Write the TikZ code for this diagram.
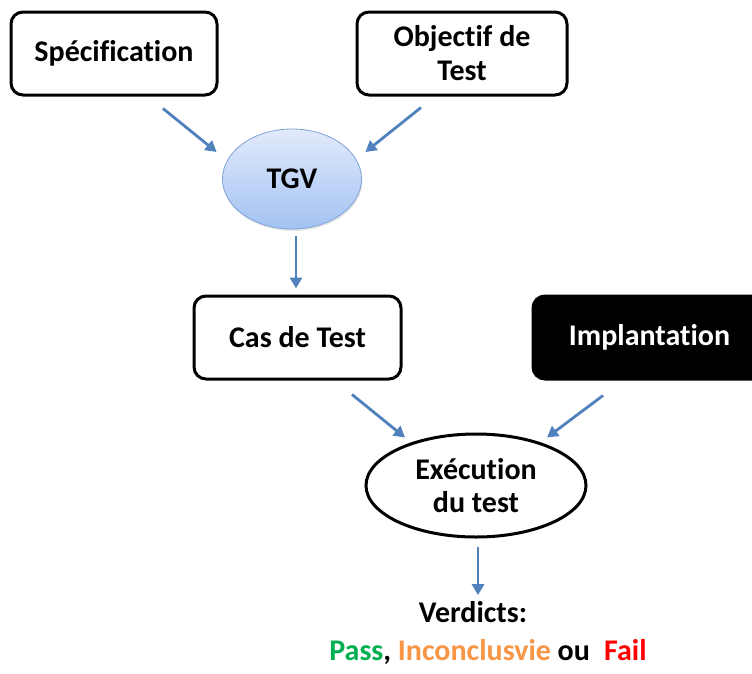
\documentclass[tikz,border=0pt]{standalone}
\usepackage{fontspec}
\setmainfont[Ligatures={NoCommon}]{Carlito}
\usetikzlibrary{arrows.meta,calc,shapes.geometric,shadows}
\definecolor{arrblue}{HTML}{4F81BD}
\definecolor{tgvtop}{HTML}{E2EAFB}
\definecolor{tgvbot}{HTML}{A3C2F2}
\definecolor{tgvline}{HTML}{7FA3D9}
\definecolor{passgreen}{HTML}{00B050}
\definecolor{incorange}{HTML}{F79646}
\definecolor{failred}{HTML}{FF0000}
\tikzset{
  lbl/.style={font=\fontsize{30}{34}\selectfont\bfseries},
  rbox/.style={lbl, draw=black, line width=3pt, rounded corners=12pt, fill=white,
    inner sep=0pt, align=center},
  arr/.style={draw=arrblue, line width=2.8pt, -{Triangle[length=11pt,width=12pt]}},
}
\begin{document}
\begin{tikzpicture}[x=1pt,y=-1pt]
\useasboundingbox (0,0) rectangle (752,673);
\clip (0,0) rectangle (752,673);
\fill[white] (0,0) rectangle (752,673);

\node[rbox, minimum width=206pt, minimum height=83pt] (spec) at (114,53.5) {Spécification};
\node[rbox, minimum width=210pt, minimum height=83pt] (obj) at (462,53.5) {Objectif de\\Test};
\node[lbl, ellipse, draw=tgvline, line width=0.8pt, top color=tgvtop, bottom color=tgvbot,
  minimum width=139pt, minimum height=100pt, inner sep=0pt,
  drop shadow={opacity=0.2, shadow xshift=1pt, shadow yshift=-2pt}] (tgv) at (292,179) {TGV};
\node[rbox, minimum width=207pt, minimum height=83pt] (cas) at (297.5,337.5) {Cas de Test};
\node[rbox, draw=black, fill=black, text=white, minimum width=233pt, minimum height=83pt] (impl) at (649.5,337.5) {Implantation};
\node[lbl, ellipse, draw=black, line width=3pt, fill=white, align=center,
  minimum width=220pt, minimum height=103pt, inner sep=0pt] (exec) at (476,485.5) {Exécution\\[-1pt]du test};
\node[lbl, inner sep=0pt] (verd) at (473,612) {Verdicts:};
\node[lbl, inner sep=0pt] (verdl) at (488,652) {\textcolor{passgreen}{Pass}, \textcolor{incorange}{Inconclusvie} ou\hspace{0.25em} \textcolor{failred}{Fail}};

\draw[arr] ($(spec.south)+(49,12)$) -- ($(tgv.west)+(-5.5,-27)$);
\draw[arr] ($(obj.south)+(-41,11)$) -- ($(tgv.east)+(3.5,-27)$);
\draw[arr] ($(tgv.south)+(4,7)$) -- ($(cas.north)+(-1.5,-6)$);
\draw[arr] ($(cas.south)+(54.5,14)$) -- ($(exec.north)+(-71,5)$);
\draw[arr] ($(impl.south)+(-46.5,15)$) -- ($(exec.north)+(71,5)$);
\draw[arr] ($(exec.south)+(2,8)$) -- ($(exec.south |- verd.north)+(2,-6)$);
\end{tikzpicture}
\end{document}
